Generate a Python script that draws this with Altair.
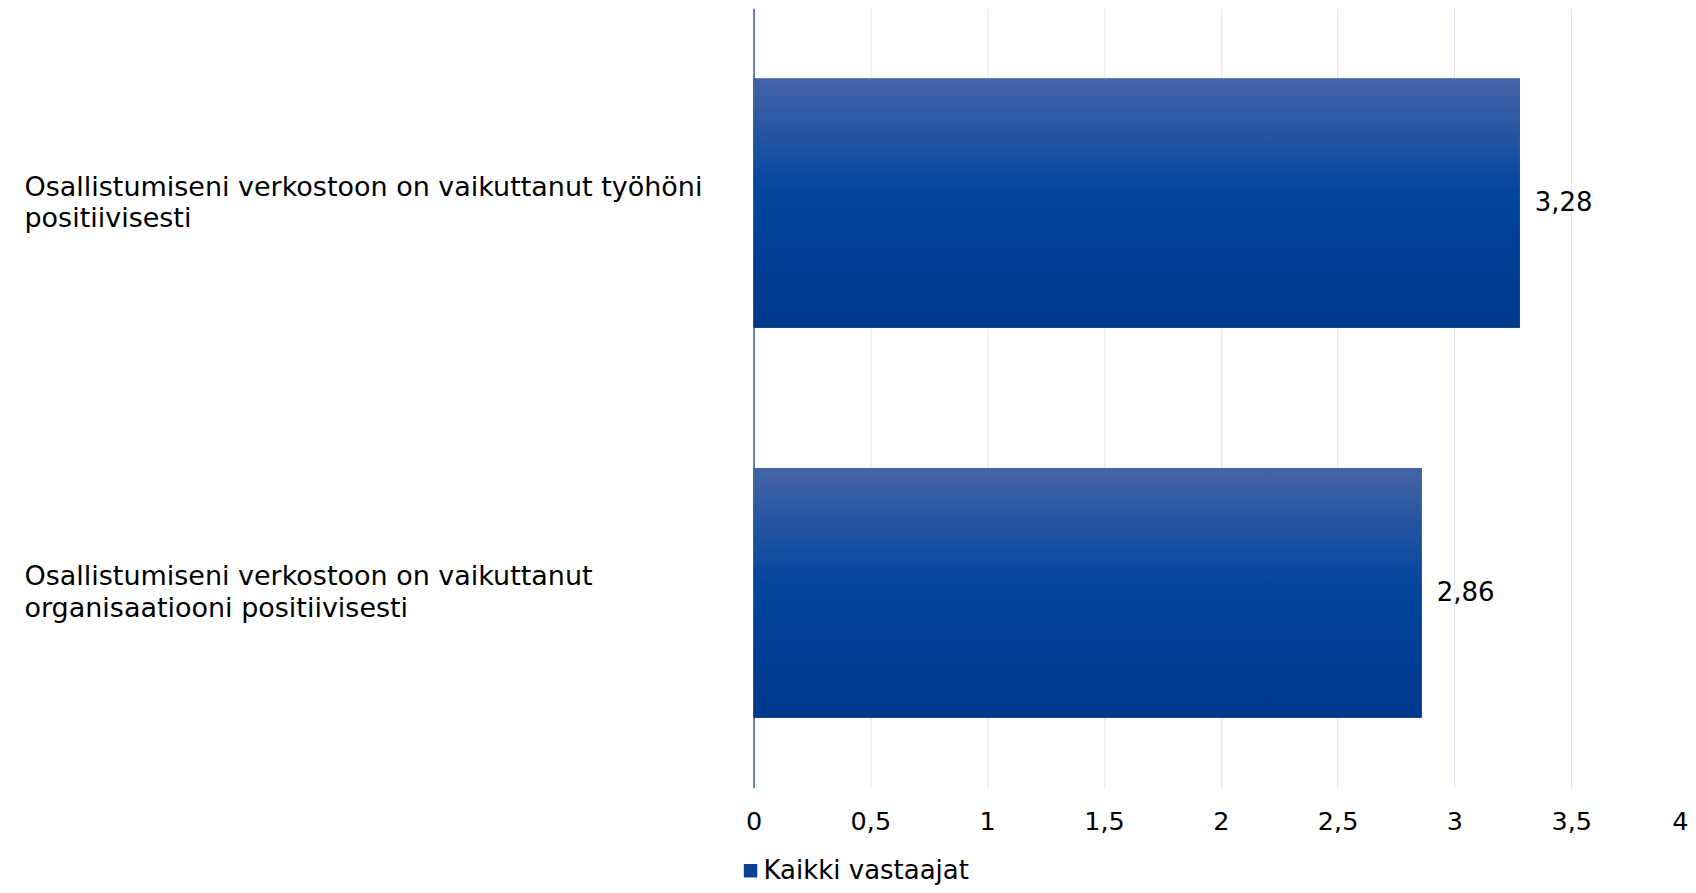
import altair as alt
import pandas as pd

# ---- data ----
categories = [
    "Osallistumiseni verkostoon on vaikuttanut työhöni|positiivisesti",
    "Osallistumiseni verkostoon on vaikuttanut|organisaatiooni positiivisesti",
]
values = [3.28, 2.86]
series = ["Kaikki vastaajat", "Kaikki vastaajat"]
x_ticks = [0, 0.5, 1, 1.5, 2, 2.5, 3, 3.5, 4]

df = pd.DataFrame({"kysymys": categories, "arvo": values, "sarja": series})

FONT = "DejaVu Sans"

grad = alt.LinearGradient(
    gradient="linear",
    stops=[
        alt.GradientStop(offset=0, color="#4563a7"),
        alt.GradientStop(offset=0.48, color="#00449c"),
        alt.GradientStop(offset=1, color="#00398b"),
    ],
    x1=0, x2=0, y1=0, y2=1,
)

x_enc = alt.X(
    "arvo:Q",
    scale=alt.Scale(domain=[0, 4], nice=False, zero=True),
    axis=alt.Axis(
        values=x_ticks, format=".1~f", title=None, domain=False, ticks=False,
        grid=True, gridColor="#dce6f2", gridWidth=1,
        labelFont=FONT, labelFontSize=25.5, labelColor="#000000",
        labelPadding=22, labelFlush=False,
        labelAlign={"condition": {"test": "datum.value >= 4", "value": "right"}, "value": "center"},
    ),
)
y_enc = alt.Y(
    "kysymys:N", sort=None,
    scale=alt.Scale(paddingInner=0.36, paddingOuter=0.18),
    axis=alt.Axis(
        title=None, labelExpr="split(datum.label, '|')",
        labelAlign="left", labelBaseline="middle", labelPadding=730,
        labelOffset=-15.5,
        labelLimit=1000, labelFont=FONT, labelFontSize=27, labelLineHeight=31.5,
        labelColor="#000000", ticks=False, tickSize=0, domain=True,
        domainColor="#1a4893", domainWidth=1.3, grid=False,
    ),
)

base = alt.Chart(df)

legend_bars = base.mark_bar().encode(
    x=x_enc, y=y_enc,
    color=alt.Color(
        "sarja:N",
        scale=alt.Scale(range=["#0d3f94"]),
        legend=alt.Legend(
            title=None, orient="none", legendX=-16, legendY=850,
            symbolType="square", symbolSize=182, symbolStrokeWidth=0,
            labelFont=FONT, labelFontSize=26, labelColor="#000000",
            labelOffset=0, padding=0, labelLimit=1000,
        ),
    ),
)
grad_bars = base.mark_bar(fill=grad).encode(x=x_enc, y=y_enc)
labels = base.mark_text(
    align="left", baseline="middle", dx=15, font=FONT, fontSize=26, color="#000000"
).encode(x=x_enc, y=y_enc, text=alt.Text("arvo:Q", format=".2f"))

chart = (
    alt.layer(legend_bars, grad_bars, labels)
    .properties(
        width=935, height=780,
        autosize=alt.AutoSizeParams(type="none"),
        padding={"left": 746, "top": 0, "right": 0, "bottom": 97},
    )
    .configure(
        locale=alt.Locale(
            number=alt.NumberLocale(decimal=",", thousands="\u00a0", grouping=[3], currency=["", " €"])
        )
    )
    .configure_view(stroke=None)
)

chart.save("out.html", embed_options={"renderer": "svg", "actions": False})
